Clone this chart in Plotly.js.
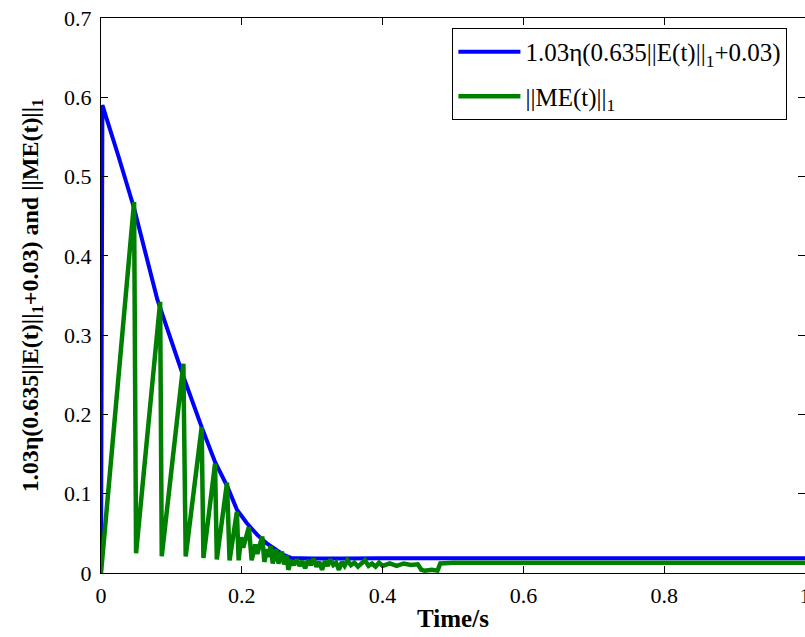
<!DOCTYPE html>
<html>
<head>
<meta charset="utf-8">
<script src="https://cdn.plot.ly/plotly-3.0.1.min.js"></script>
<style>html,body{margin:0;padding:0;background:#fff;}#chart{width:805px;height:637px;}</style>
</head>
<body>
<div id="chart"></div>
<script>
// Series names
const seriesNames = [
  "1.03η(0.635||E(t)||<sub>1</sub>+0.03)",
  "||ME(t)||<sub>1</sub>"
];

// Blue: bound curve
const boundT = [0, 0.002, 0.025, 0.047, 0.08, 0.117, 0.143, 0.162, 0.18, 0.193, 0.207, 0.222, 0.236, 0.25, 0.259, 0.27, 0.3, 0.35, 0.37, 0.39, 0.4, 0.5, 0.6, 0.8, 1.0];
const boundV = [0, 0.59, 0.525, 0.46, 0.345, 0.248, 0.184, 0.14, 0.108, 0.08, 0.063, 0.048, 0.037, 0.028, 0.023, 0.019, 0.0182, 0.0183, 0.019, 0.0185, 0.0185, 0.0185, 0.0185, 0.0185, 0.0185];

// Green: ||ME(t)||_1
const meT = [0, 0.047, 0.0498, 0.084, 0.0863, 0.117, 0.1203, 0.143, 0.1455, 0.162, 0.1645, 0.179, 0.1826, 0.193, 0.1955,
  0.199, 0.202, 0.21, 0.214, 0.219, 0.222, 0.229, 0.232, 0.236, 0.238, 0.241, 0.244, 0.249, 0.252, 0.257, 0.26, 0.264, 0.266,
  0.27, 0.274, 0.278, 0.282, 0.286, 0.29, 0.294, 0.298, 0.302, 0.306, 0.31, 0.314, 0.318, 0.322, 0.326, 0.33, 0.334, 0.338,
  0.342, 0.346, 0.35, 0.355, 0.36, 0.365, 0.37, 0.375, 0.38, 0.385, 0.39, 0.395, 0.4, 0.41, 0.42, 0.43, 0.44, 0.45, 0.455,
  0.46, 0.47, 0.478, 0.482, 0.5, 0.6, 0.8, 1.0];
const meV = [0, 0.468, 0.025, 0.342, 0.021, 0.264, 0.021, 0.184, 0.019, 0.138, 0.017, 0.114, 0.016, 0.077, 0.016,
  0.045, 0.032, 0.058, 0.016, 0.036, 0.024, 0.046, 0.014, 0.03, 0.02, 0.034, 0.012, 0.03, 0.012, 0.027, 0.011, 0.022, 0.004,
  0.016, 0.01, 0.017, 0.009, 0.015, 0.006, 0.016, 0.01, 0.018, 0.008, 0.014, 0.004, 0.015, 0.009, 0.017, 0.01, 0.013, 0.004,
  0.014, 0.009, 0.016, 0.01, 0.013, 0.008, 0.012, 0.016, 0.009, 0.012, 0.008, 0.013, 0.009, 0.012, 0.009, 0.012, 0.01, 0.011, 0.004,
  0.003, 0.004, 0.003, 0.012, 0.013, 0.013, 0.013, 0.013];

const xTicks = [0, 0.2, 0.4, 0.6, 0.8, 1];
const xTickText = ["0", "0.2", "0.4", "0.6", "0.8", "1"];
const yTicks = [0, 0.1, 0.2, 0.3, 0.4, 0.5, 0.6, 0.7];
const yTickText = ["0", "0.1", "0.2", "0.3", "0.4", "0.5", "0.6", "0.7"];

const serif = "Liberation Serif";

const traces = [
  {x: boundT, y: boundV, type: "scatter", mode: "lines", name: seriesNames[0], legendgroup: "a",
   line: {color: "#0000FF", width: 4}},
  {x: meT, y: meV, type: "scatter", mode: "lines", name: seriesNames[1], legendgroup: "b",
   line: {color: "#008000", width: 4.5}}
];

const layout = {
  width: 805, height: 637,
  margin: {l: 101, r: 0, t: 18, b: 64, pad: 0},
  paper_bgcolor: "#fff", plot_bgcolor: "#fff",
  font: {family: serif, color: "#000", size: 22},
  showlegend: true,
  legend: {
    x: 0.975, xanchor: "right", y: 0.982, yanchor: "top",
    bgcolor: "#fff", bordercolor: "#000", borderwidth: 1,
    font: {family: serif, size: 25, color: "#000"},
    traceorder: "grouped", tracegroupgap: 9, itemwidth: 62
  },
  xaxis: {
    range: [0, 1], tickvals: xTicks, ticktext: xTickText,
    ticks: "inside", ticklen: 7, tickcolor: "#000", tickwidth: 1,
    showline: true, linecolor: "#000", linewidth: 1, mirror: "ticks",
    showgrid: false, zeroline: false,
    tickfont: {family: serif, size: 22, color: "#000"},
    ticklabelstandoff: 3, ticklabeloverflow: "allow",
    title: {text: "<b>Time/s</b>", font: {family: serif, size: 25, color: "#000"}, standoff: 2}
  },
  yaxis: {
    range: [0, 0.7], tickvals: yTicks, ticktext: yTickText,
    ticks: "inside", ticklen: 7, tickcolor: "#000", tickwidth: 1,
    showline: true, linecolor: "#000", linewidth: 1, mirror: "ticks",
    showgrid: false, zeroline: false,
    tickfont: {family: serif, size: 22, color: "#000"},
    ticklabelstandoff: 4, ticklabeloverflow: "allow",
    title: {text: "<b>1.03η(0.635||E(t)||<sub>1</sub>+0.03) and ||ME(t)||<sub>1</sub></b>", font: {family: serif, size: 24, color: "#000"}, standoff: 18}
  }
};

Plotly.newPlot("chart", traces, layout, {displayModeBar: false, staticPlot: true});
</script>
</body>
</html>
